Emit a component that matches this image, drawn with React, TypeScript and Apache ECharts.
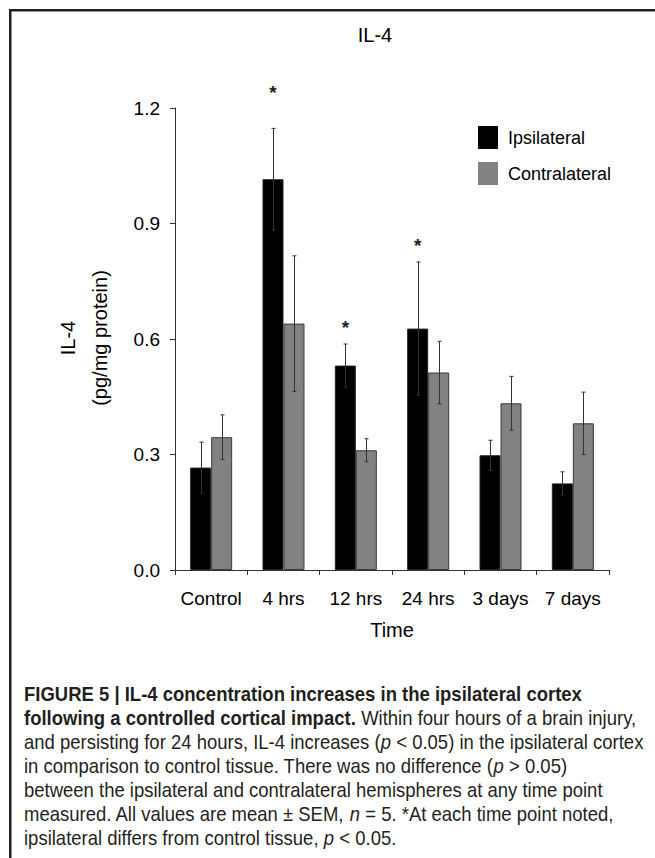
import React, { useEffect, useRef } from "react";
import * as echarts from "echarts";

const categories = ["Control", "4 hrs", "12 hrs", "24 hrs", "3 days", "7 days"];
const ipsilateral = [0.266, 1.015, 0.531, 0.627, 0.298, 0.225];
const ipsilateralSem = [0.066, 0.132, 0.056, 0.173, 0.039, 0.03];
const contralateral = [0.345, 0.64, 0.311, 0.513, 0.433, 0.381];
const contralateralSem = [0.058, 0.176, 0.03, 0.081, 0.07, 0.081];
const yMin = 0;
const yMax = 1.2;
const yInterval = 0.3;
const starCategories = [1, 2, 3];
const starHeights = [1.252, 0.644, 0.855];

const captionLines = [
  "{b|FIGURE 5 | IL-4 concentration increases in the ipsilateral cortex}",
  "{b|following a controlled cortical impact.} Within four hours of a brain injury,",
  "and persisting for 24 hours, IL-4 increases ({i|p} < 0.05) in the ipsilateral cortex",
  "in comparison to control tissue. There was no difference ({i|p} > 0.05)",
  "between the ipsilateral and contralateral hemispheres at any time point",
  "measured. All values are mean ± SEM, {i|n} = 5. *At each time point noted,",
  "ipsilateral differs from control tissue, {i|p} < 0.05.",
];

const FONT = "'Liberation Sans', Arial, Helvetica, sans-serif";
const CAP_SIZE = 20;

function errorSeries(name: string, means: number[], sems: number[], offset: number) {
  return {
    name,
    type: "custom",
    clip: false,
    z: 5,
    silent: true,
    data: categories.map((_, i) => [i, means[i], sems[i]]),
    encode: { x: 0, y: 1 },
    renderItem: (params: any, api: any) => {
      const c = api.value(0);
      const v = api.value(1);
      const e = api.value(2);
      const base = api.coord([c, v]);
      const top = api.coord([c, v + e]);
      const bot = api.coord([c, v - e]);
      const x = Math.round(base[0] + offset) + 0.5;
      const st = { stroke: "#333", lineWidth: 1 };
      return {
        type: "group",
        children: [
          { type: "line", shape: { x1: x, y1: top[1], x2: x, y2: bot[1] }, style: st },
          { type: "line", shape: { x1: x - 2, y1: top[1], x2: x + 2, y2: top[1] }, style: st },
          { type: "line", shape: { x1: x - 2, y1: bot[1], x2: x + 2, y2: bot[1] }, style: st },
        ],
      };
    },
  };
}

export default function App() {
  const ref = useRef<HTMLDivElement>(null);
  useEffect(() => {
    document.body.style.margin = "0";
    if (!ref.current) return;
    const chart = echarts.init(ref.current, undefined, { renderer: "svg" });
    const captionGraphics = captionLines.map((line, i) => ({
      type: "text",
      x: 24,
      y: 694 + i * 24,
      scaleX: 0.925,
      style: {
        text: line,
        fontFamily: FONT,
        fontSize: CAP_SIZE,
        fill: "#231f20",
        verticalAlign: "middle",
        rich: {
          b: { fontFamily: FONT, fontSize: CAP_SIZE, fontWeight: "bold", fill: "#231f20" },
          i: { fontFamily: FONT, fontSize: CAP_SIZE, fontStyle: "italic", fill: "#231f20" },
        },
      },
    }));
    chart.setOption({
      animation: false,
      backgroundColor: "#ffffff",
      grid: { left: 175, right: 46, top: 108, bottom: 288 },
      legend: {
        data: ["Ipsilateral", "Contralateral"],
        orient: "vertical",
        left: 478,
        top: 126,
        padding: 0,
        itemWidth: 20,
        itemHeight: 23,
        itemGap: 13,
        icon: "rect",
        textStyle: { fontFamily: FONT, fontSize: 18, color: "#000", padding: [0, 0, 0, 5] },
        itemStyle: { borderWidth: 0 },
      },
      xAxis: {
        type: "category",
        data: categories,
        boundaryGap: true,
        axisLine: { lineStyle: { color: "#333", width: 1 } },
        axisTick: { show: true, length: 5, lineStyle: { color: "#333" } },
        axisLabel: { interval: 0, fontFamily: FONT, fontSize: 19, color: "#000", margin: 19 },
      },
      yAxis: {
        type: "value",
        min: yMin,
        max: yMax,
        interval: yInterval,
        axisLine: { show: true, lineStyle: { color: "#333", width: 1 } },
        axisTick: { show: true, length: 5, lineStyle: { color: "#333" } },
        splitLine: { show: false },
        axisLabel: {
          fontFamily: FONT,
          fontSize: 19,
          color: "#000",
          margin: 15,
          formatter: (v: number) => v.toFixed(1),
        },
      },
      series: [
        {
          name: "Ipsilateral",
          type: "bar",
          data: ipsilateral,
          barWidth: 21,
          barGap: "0%",
          itemStyle: { color: "#000000", borderColor: "#222", borderWidth: 1 },
        },
        {
          name: "Contralateral",
          type: "bar",
          data: contralateral,
          barWidth: 21,
          itemStyle: { color: "#828282", borderColor: "#3a3a3a", borderWidth: 1 },
        },
        errorSeries("Ipsilateral SEM", ipsilateral, ipsilateralSem, -10.5),
        errorSeries("Contralateral SEM", contralateral, contralateralSem, 10.5),
        {
          name: "Significance",
          type: "custom",
          clip: false,
          z: 6,
          silent: true,
          data: starCategories.map((c, i) => [c, starHeights[i]]),
          encode: { x: 0, y: 1 },
          renderItem: (params: any, api: any) => {
            const p = api.coord([api.value(0), api.value(1)]);
            return {
              type: "text",
              x: p[0] - 10.5,
              y: p[1] + 5,
              style: {
                text: "*",
                fontFamily: FONT,
                fontSize: 19,
                fontWeight: "bold",
                fill: "#222",
                align: "center",
                verticalAlign: "middle",
              },
            };
          },
        },
      ],
      graphic: [
        { type: "rect", shape: { x: 9, y: 9, width: 2.5, height: 849 }, style: { fill: "#231f20" } },
        { type: "rect", shape: { x: 9, y: 9, width: 646, height: 2.5 }, style: { fill: "#231f20" } },
        {
          type: "text",
          x: 375,
          y: 35,
          style: { text: "IL-4", fontFamily: FONT, fontSize: 20, fill: "#000", align: "center", verticalAlign: "middle" },
        },
        {
          type: "text",
          x: 68,
          y: 338,
          rotation: Math.PI / 2,
          style: { text: "IL-4", fontFamily: FONT, fontSize: 20, fill: "#000", align: "center", verticalAlign: "middle" },
        },
        {
          type: "text",
          x: 100,
          y: 338,
          rotation: Math.PI / 2,
          style: {
            text: "(pg/mg protein)",
            fontFamily: FONT,
            fontSize: 20,
            fill: "#000",
            align: "center",
            verticalAlign: "middle",
          },
        },
        {
          type: "text",
          x: 392,
          y: 630,
          style: { text: "Time", fontFamily: FONT, fontSize: 20, fill: "#000", align: "center", verticalAlign: "middle" },
        },
        ...captionGraphics,
      ],
    });
    return () => chart.dispose();
  }, []);
  return <div ref={ref} style={{ width: 655, height: 858 }} />;
}
